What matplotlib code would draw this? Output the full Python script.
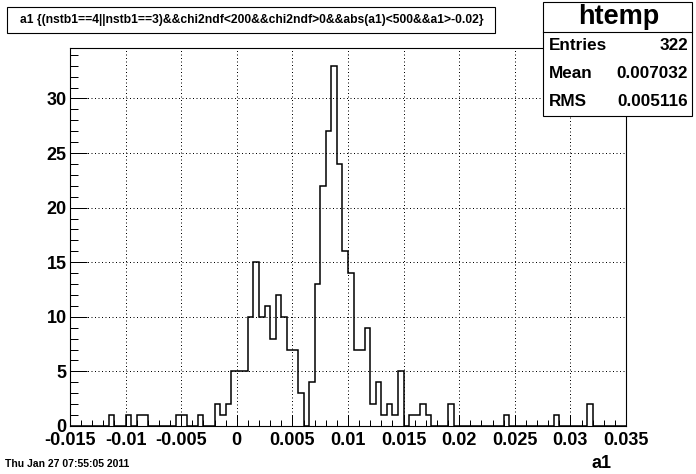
import numpy as np
import matplotlib
matplotlib.use("Agg")
import matplotlib.pyplot as plt
from matplotlib.patches import Rectangle
from matplotlib.ticker import MultipleLocator

# ---- data (100 bins from -0.015 to 0.035) ----
x_min = -0.015
x_max = 0.035
n_bins = 100
# nonzero bins: index -> count
bin_index = [7, 10, 12, 13, 19, 20, 23, 26, 27, 28, 29, 30, 31, 32, 33, 34, 35,
             36, 37, 38, 39, 40, 41, 43, 44, 45, 46, 47, 48, 49, 50, 51, 52, 53,
             54, 55, 56, 57, 58, 59, 61, 62, 63, 64, 68, 78, 87, 93]
bin_count = [1, 1, 1, 1, 1, 1, 1, 2, 1, 2, 5, 5, 5, 10, 15, 10, 11,
             8, 12, 10, 7, 7, 3, 4, 13, 22, 27, 33, 24, 16, 14, 7, 7, 9,
             2, 4, 1, 2, 1, 5, 1, 1, 2, 1, 2, 1, 1, 2]
x_ticks = [-0.015, -0.01, -0.005, 0, 0.005, 0.01, 0.015, 0.02, 0.025, 0.03, 0.035]
x_tick_labels = ["-0.015", "-0.01", "-0.005", "0", "0.005", "0.01", "0.015",
                 "0.02", "0.025", "0.03", "0.035"]
y_ticks = [0, 5, 10, 15, 20, 25, 30]
title_text = "a1 {(nstb1==4||nstb1==3)&&chi2ndf<200&&chi2ndf>0&&abs(a1)<500&&a1>-0.02}"
stats_name = "htemp"
stats_rows = [("Entries", "322"), ("Mean", "0.007032"), ("RMS", "0.005116")]
date_text = "Thu Jan 27 07:55:05 2011"
x_title = "a1"

counts = np.zeros(n_bins)
for i, c in zip(bin_index, bin_count):
    counts[i] = c
edges = np.linspace(x_min, x_max, n_bins + 1)

W, H = 696, 474
plt.rcParams['font.family'] = ['Liberation Sans', 'DejaVu Sans']
plt.rcParams['font.weight'] = 'bold'
fig = plt.figure(figsize=(W / 100, H / 100), dpi=100)
fig.patch.set_facecolor('white')

def fx(px):
    return px / W

def fy(py):
    return 1 - py / H

left, right, top, bottom = 70, 626, 47.7, 426
ax = fig.add_axes([fx(left), fy(bottom), fx(right - left), (bottom - top) / H])
ax.stairs(counts, edges, color='black', lw=1.1, baseline=0)
ax.set_xlim(x_min, x_max)
ax.set_ylim(0, counts.max() * 1.05)

ax.set_xticks(x_ticks)
ax.set_xticklabels(x_tick_labels)
ax.set_yticks(y_ticks)
ax.xaxis.set_minor_locator(MultipleLocator(0.001))
ax.yaxis.set_minor_locator(MultipleLocator(1))
ax.tick_params(axis='x', which='major', direction='in', length=8.1, width=0.72,
               labelsize=13, pad=4, top=False)
ax.tick_params(axis='x', which='minor', direction='in', length=4.1, width=0.72, top=False)
ax.tick_params(axis='y', which='major', direction='in', length=12, width=0.72,
               labelsize=13, pad=2.5, right=False)
ax.tick_params(axis='y', which='minor', direction='in', length=6, width=0.72, right=False)
for lab in ax.get_xticklabels() + ax.get_yticklabels():
    lab.set_fontweight('bold')
ax.grid(True, which='major', color='black', linestyle=(0, (1, 2.5)), lw=0.72)
for s in ax.spines.values():
    s.set_linewidth(0.8)

# title box
fig.add_artist(Rectangle((fx(7), fy(33)), fx(495 - 7), (33 - 7) / H,
                         transform=fig.transFigure, facecolor='white',
                         edgecolor='black', lw=0.8))
fig.text(fx(252), fy(20.5), title_text, ha='center', va='center',
         fontsize=8.7, fontweight='bold')

# stats box
sx0, sx1, sy0, sy1 = 543, 692, 2, 116
fig.add_artist(Rectangle((fx(sx0), fy(sy1)), fx(sx1 - sx0), (sy1 - sy0) / H,
                         transform=fig.transFigure, facecolor='white',
                         edgecolor='black', lw=0.8, zorder=5))
fig.add_artist(plt.Line2D([fx(sx0), fx(sx1)], [fy(31.7), fy(31.7)],
                          transform=fig.transFigure, color='black', lw=0.8, zorder=6))
fig.text(fx((sx0 + sx1) / 2 + 1), fy(17), stats_name, ha='center', va='center',
         fontsize=19.5, fontweight='bold', zorder=7)
row_y = [46, 74, 101]
for (k, v), yy in zip(stats_rows, row_y):
    fig.text(fx(549), fy(yy), k, ha='left', va='center', fontsize=12.3,
             fontweight='bold', zorder=7)
    fig.text(fx(688), fy(yy), v, ha='right', va='center', fontsize=12.3,
             fontweight='bold', zorder=7)

# date and axis title
fig.text(fx(5), fy(464), date_text, ha='left', va='center', fontsize=7.5,
         fontweight='bold')
fig.text(fx(612), fy(463), x_title, ha='right', va='center', fontsize=13,
         fontweight='bold')

fig.savefig('out.png', dpi=100, facecolor='white')
